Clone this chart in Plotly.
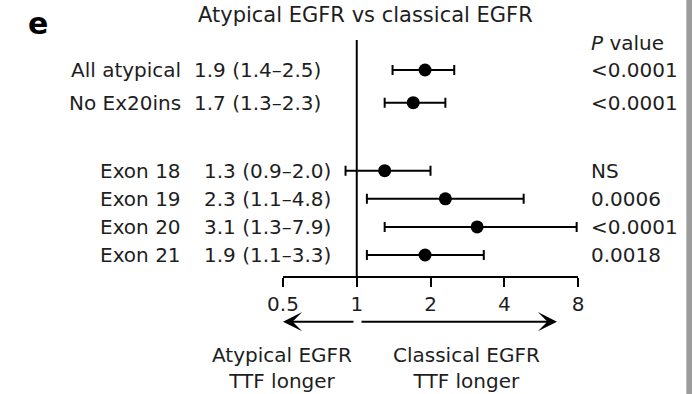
import math
import plotly.graph_objects as go

# ---------------- data ----------------
groups_top = ["All atypical", "No Ex20ins"]
hr_top = [1.9, 1.7]
lo_top = [1.4, 1.3]
hi_top = [2.5, 2.3]
p_top = ["<0.0001", "<0.0001"]

groups_bot = ["Exon 18", "Exon 19", "Exon 20", "Exon 21"]
hr_bot = [1.3, 2.3, 3.1, 1.9]
lo_bot = [0.9, 1.1, 1.3, 1.1]
hi_bot = [2.0, 4.8, 7.9, 3.3]
p_bot = ["NS", "0.0006", "<0.0001", "0.0018"]

x_ticks = [0.5, 1, 2, 4, 8]
x_ticktext = ["0.5", "1", "2", "4", "8"]

title_text = "Atypical EGFR vs classical EGFR"
left_label = "Atypical EGFR<br>TTF longer"
right_label = "Classical EGFR<br>TTF longer"

# ---------------- layout helpers ----------------
W, H = 692, 394
FONT = "DejaVu Sans"
TXT = "#1e1e1e"


def px(x):
    return x / W


def py(y):
    return 1 - y / H


XMIN, XMAX = 0.5, 8
xdom = [px(283), px(578)]


def xpaper(v):
    f = (math.log10(v) - math.log10(XMIN)) / (math.log10(XMAX) - math.log10(XMIN))
    return xdom[0] + f * (xdom[1] - xdom[0])


def ci_text(h, l, u):
    return f"{h:.1f} ({l:.1f}\u2013{u:.1f})"


fig = go.Figure()

for names, hr, lo, hi, yax in [
    (groups_top, hr_top, lo_top, hi_top, "y2"),
    (groups_bot, hr_bot, lo_bot, hi_bot, "y"),
]:
    fig.add_trace(
        go.Scatter(
            x=hr,
            y=names,
            mode="markers",
            marker=dict(size=13, color="black"),
            error_x=dict(
                type="data",
                symmetric=False,
                array=[u - h for h, u in zip(hr, hi)],
                arrayminus=[h - l for h, l in zip(hr, lo)],
                color="black",
                thickness=2,
                width=5,
            ),
            xaxis="x",
            yaxis=yax,
            showlegend=False,
            hoverinfo="skip",
        )
    )

annotations = []
base_font = dict(family=FONT, size=20, color=TXT)

# panel letter and title
annotations.append(dict(text="<b>e</b>", x=px(26), y=py(23), xref="paper", yref="paper",
                        xanchor="left", yanchor="middle", showarrow=False,
                        font=dict(family=FONT, size=30, color="black")))
annotations.append(dict(text=title_text, x=px(365), y=py(15), xref="paper", yref="paper",
                        xanchor="center", yanchor="middle", showarrow=False,
                        font=dict(family=FONT, size=21, color=TXT)))
annotations.append(dict(text="<i>P</i> value", x=px(589), y=py(43.5), xref="paper", yref="paper",
                        xanchor="left", yanchor="middle", showarrow=False, font=base_font))

for names, hr, lo, hi, pv, yref, ci_x in [
    (groups_top, hr_top, lo_top, hi_top, p_top, "y2", 192),
    (groups_bot, hr_bot, lo_bot, hi_bot, p_bot, "y", 202),
]:
    for n, h, l, u, p in zip(names, hr, lo, hi, pv):
        annotations.append(dict(text=n, x=px(183), y=n, xref="paper", yref=yref,
                                xanchor="right", yanchor="middle", showarrow=False, font=base_font))
        annotations.append(dict(text=ci_text(h, l, u), x=px(ci_x), y=n, xref="paper", yref=yref,
                                xanchor="left", yanchor="middle", showarrow=False, font=base_font))
        annotations.append(dict(text=p, x=px(589), y=n, xref="paper", yref=yref,
                                xanchor="left", yanchor="middle", showarrow=False, font=base_font))

# direction arrows
arrow_y = py(321.7)
annotations.append(dict(text="", x=px(283), y=arrow_y, xref="paper", yref="paper",
                        ax=72, ay=0, showarrow=True, arrowhead=3, arrowsize=1.6,
                        arrowwidth=2, arrowcolor="black", standoff=0, startstandoff=0))
annotations.append(dict(text="", x=px(557), y=arrow_y, xref="paper", yref="paper",
                        ax=-197, ay=0, showarrow=True, arrowhead=3, arrowsize=1.6,
                        arrowwidth=2, arrowcolor="black", standoff=0, startstandoff=0))

annotations.append(dict(text=left_label, x=px(282), y=py(368), xref="paper", yref="paper",
                        xanchor="center", yanchor="middle", showarrow=False, font=base_font))
annotations.append(dict(text=right_label, x=px(466), y=py(368), xref="paper", yref="paper",
                        xanchor="center", yanchor="middle", showarrow=False, font=base_font))

shapes = [
    dict(type="line", xref="paper", yref="paper", x0=xpaper(1), x1=xpaper(1),
         y0=py(277), y1=py(40), line=dict(color="black", width=2)),
    dict(type="rect", xref="paper", yref="paper", x0=px(686), x1=px(692), y0=0, y1=1,
         fillcolor="#9c9c9c", line=dict(width=0), layer="above"),
    dict(type="line", xref="paper", yref="paper", x0=px(686.5), x1=px(686.5), y0=0, y1=1,
         line=dict(color="#bdbdbd", width=1), layer="above"),
]

fig.update_layout(
    width=W,
    height=H,
    margin=dict(l=0, r=0, t=0, b=0, pad=0, autoexpand=False),
    paper_bgcolor="white",
    plot_bgcolor="white",
    showlegend=False,
    xaxis=dict(
        type="log",
        domain=xdom,
        range=[math.log10(XMIN), math.log10(XMAX)],
        anchor="free",
        position=py(276.7),
        tickvals=x_ticks,
        ticktext=x_ticktext,
        ticks="outside",
        ticklen=9,
        tickwidth=2,
        tickcolor="black",
        showline=True,
        linewidth=2,
        linecolor="black",
        showgrid=False,
        zeroline=False,
        tickfont=dict(family=FONT, size=20, color=TXT),
        fixedrange=True,
    ),
    yaxis=dict(
        domain=[py(269.05), py(156.65)],
        type="category",
        categoryorder="array",
        categoryarray=groups_bot,
        range=[len(groups_bot) - 0.5, -0.5],
        visible=False,
        fixedrange=True,
    ),
    yaxis2=dict(
        domain=[py(119.05), py(53.65)],
        type="category",
        categoryorder="array",
        categoryarray=groups_top,
        range=[len(groups_top) - 0.5, -0.5],
        visible=False,
        anchor="x",
        fixedrange=True,
    ),
    annotations=annotations,
    shapes=shapes,
)

fig.write_html("out.html")
